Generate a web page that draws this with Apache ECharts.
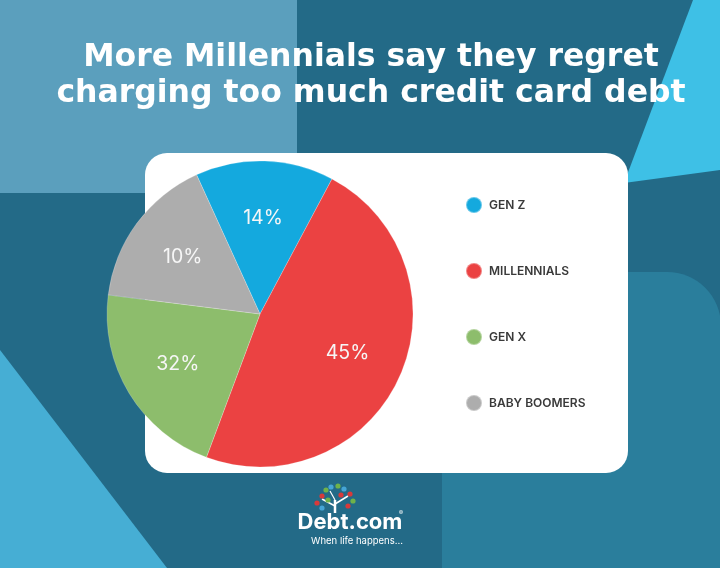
<!DOCTYPE html>
<html><head><meta charset="utf-8">
<script src="https://cdn.jsdelivr.net/npm/echarts@6/dist/echarts.min.js"></script>
<style>html,body{margin:0;padding:0;background:#236a87;overflow:hidden}#chart{width:720px;height:568px}</style>
</head><body><div id="chart"></div>
<script>
// Data
const categories = ['GEN Z', 'MILLENNIALS', 'GEN X', 'BABY BOOMERS'];
const shareLabels = ['14%', '45%', '32%', '10%'];          // printed on the slices
const sliceSizes = [14.6, 47.9, 21.3, 16.2];               // slice sizes as drawn in the picture
const titleLines = ['More Millennials say they regret', 'charging too much credit card debt'];

const pieData = categories.map((name, i) => ({ name: name, value: sliceSizes[i] }));

const chart = echarts.init(document.getElementById('chart'), null, { renderer: 'canvas' });

const leaf = (x, y, c) => ({ type: 'circle', shape: { cx: x, cy: y, r: 2.6 }, style: { fill: c }, z: 1 });

chart.setOption({
  animation: false,
  color: ['#14a9de', '#eb4242', '#8dbd6c', '#adadad'],
  title: {
    text: titleLines.join('\n'),
    left: 371,
    textAlign: 'center',
    top: 40,
    padding: 0,
    textStyle: {
      color: '#ffffff', fontSize: 31.5, fontWeight: 'bold', lineHeight: 36,
      fontFamily: '"DejaVu Sans", sans-serif'
    }
  },
  legend: {
    orient: 'vertical',
    left: 460,
    top: 191,
    itemWidth: 16,
    itemHeight: 16,
    itemGap: 48,
    icon: 'circle',
    data: categories,
    selectedMode: false,
    textStyle: {
      color: '#3a3a3a', fontSize: 12, fontWeight: 600,
      fontFamily: 'Inter, "Noto Sans", sans-serif',
      padding: [0, 0, 0, 2]
    }
  },
  graphic: [
    { type: 'rect', shape: { x: 0, y: 0, width: 720, height: 568 }, style: { fill: '#236a87' }, z: 0 },
    { type: 'rect', shape: { x: 0, y: 0, width: 297, height: 193 }, style: { fill: '#5b9fbd' }, z: 0 },
    { type: 'polygon', shape: { points: [[693, 0], [720, 0], [720, 170], [624, 183]] }, style: { fill: '#3ec0e6' }, z: 0 },
    { type: 'polygon', shape: { points: [[0, 350], [167, 568], [0, 568]] }, style: { fill: '#46aed4' }, z: 0 },
    { type: 'rect', shape: { x: 442, y: 272, width: 279, height: 300, r: [0, 54, 0, 0] }, style: { fill: '#2a7e9c' }, z: 0 },
    { type: 'rect', shape: { x: 145, y: 153, width: 483, height: 320, r: 22 }, style: { fill: '#ffffff' }, z: 0 },
    // logo tree
    { type: 'line', shape: { x1: 335, y1: 513, x2: 335, y2: 500 }, style: { stroke: '#ffffff', lineWidth: 2.5 }, z: 1 },
    { type: 'line', shape: { x1: 335, y1: 506, x2: 322, y2: 499 }, style: { stroke: '#ffffff', lineWidth: 1.5 }, z: 1 },
    { type: 'line', shape: { x1: 335, y1: 504, x2: 348, y2: 496 }, style: { stroke: '#ffffff', lineWidth: 1.5 }, z: 1 },
    { type: 'line', shape: { x1: 335, y1: 500, x2: 330, y2: 491 }, style: { stroke: '#ffffff', lineWidth: 1.2 }, z: 1 },
    leaf(317, 503, '#d83a3a'), leaf(322, 496, '#d83a3a'), leaf(326, 490, '#6fb24a'),
    leaf(331, 487, '#45a5d6'), leaf(338, 486, '#6fb24a'), leaf(344, 489, '#45a5d6'),
    leaf(350, 494, '#d83a3a'), leaf(353, 501, '#6fb24a'), leaf(348, 506, '#d83a3a'),
    leaf(322, 508, '#45a5d6'), leaf(341, 495, '#d83a3a'), leaf(328, 500, '#6fb24a'),
    { type: 'text', x: 350, y: 522, style: { text: 'Debt.com', fill: '#ffffff', font: 'bold 22px Inter, "Noto Sans", sans-serif', textAlign: 'center', textVerticalAlign: 'middle' }, z: 1 },
    { type: 'text', x: 401, y: 513, style: { text: '®', fill: '#ffffff', font: '6px Inter, sans-serif', textAlign: 'center', textVerticalAlign: 'middle' }, z: 1 },
    { type: 'text', x: 357, y: 541, style: { text: 'When life happens...', fill: '#ffffff', font: '9.5px Inter, "Noto Sans", sans-serif', textAlign: 'center', textVerticalAlign: 'middle' }, z: 1 }
  ],
  series: [
    {
      type: 'pie',
      center: [260, 314],
      radius: [0, 153],
      startAngle: 114.5,
      clockwise: true,
      silent: true,
      label: { show: false },
      labelLine: { show: false },
      itemStyle: { borderColor: 'rgba(255,255,255,0.35)', borderWidth: 0.6 },
      data: pieData
    },
    {
      type: 'pie',
      center: [260, 314],
      radius: [0, 186],
      startAngle: 114.5,
      clockwise: true,
      silent: true,
      itemStyle: { color: 'rgba(0,0,0,0)', borderWidth: 0 },
      labelLine: { show: false },
      label: {
        show: true,
        position: 'inside',
        formatter: p => shareLabels[p.dataIndex],
        color: '#f6f6f6',
        fontSize: 19.5,
        fontWeight: 400,
        fontFamily: 'Inter, "Noto Sans", sans-serif'
      },
      data: pieData
    }
  ]
});
</script>
</body></html>
